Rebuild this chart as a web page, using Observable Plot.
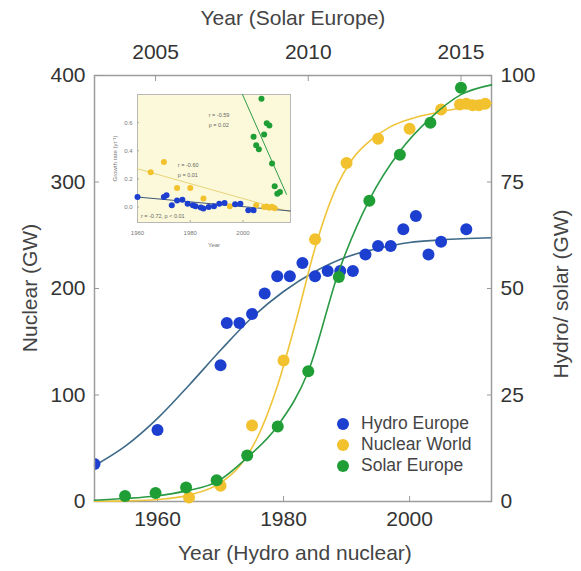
<!DOCTYPE html>
<html><head><meta charset="utf-8">
<script src="https://cdn.jsdelivr.net/npm/d3@7"></script>
<script src="https://cdn.jsdelivr.net/npm/@observablehq/plot@0.6"></script>
<style>
body{margin:0;background:#fff;font-family:"Liberation Sans",Arial,sans-serif;}
#wrap{position:relative;width:581px;height:571px;overflow:hidden;}
#wrap svg{position:absolute;left:0;top:0;overflow:visible;}
#legend{position:absolute;left:337px;top:413px;font-size:17.5px;color:#444;line-height:21px;}
#legend .it{display:flex;align-items:center;height:21px;}
#legend .sw{width:12px;height:12px;border-radius:50%;margin-right:12px;}
.title{position:absolute;font-size:21px;color:#444;white-space:nowrap;transform-origin:center center;}
</style></head><body><div id="wrap"></div>
<script>
// ---- main data ----
const hydroYears = [1950,1960,1970,1971,1973,1975,1977,1979,1981,1983,1985,1987,1989,1991,1993,1995,1997,1999,2001,2003,2005,2009];
const hydroGW    = [8.8,16.8,32.0,41.9,41.9,44.0,48.8,52.9,52.9,56.0,52.9,54.1,54.1,54.1,58.0,60.0,60.0,63.9,67.0,58.0,61.0,63.9];
const nuclearYears = [1965,1970,1975,1980,1985,1990,1995,2000,2005,2008,2009,2010,2011,2012];
const nuclearGW    = [3.8,14.8,71.3,132.5,246.2,317.8,340.7,350.1,368,372.7,373.4,372,372,373.4];
const solarYears = [2004,2005,2006,2007,2008,2009,2010,2011,2012,2013,2014,2015];
const solarGW    = [1.3,2.0,3.3,5.0,10.8,17.6,30.6,52.7,70.6,81.4,88.9,97.1];
// fitted curves
const hydroFitYears = [1950,1955,1960,1965,1970,1975,1980,1985,1990,1995,2000,2005,2013];
const hydroFitGW    = [8.4,13.1,19.5,27.3,35.5,43.2,49.3,54.0,57.4,59.4,60.8,61.4,61.9];
const nuclearFitYears = [1950,1955,1960,1965,1970,1973,1976,1979,1982,1985,1988,1991,1994,1997,2000,2005,2010,2013];
const nuclearFitGW    = [0.2,0.6,1.9,6,17.5,33,62,108,170,238,290,322,340,352,359,366,371,374];
const solarFitYears = [2003,2004,2005,2006,2007,2008,2009,2010,2011,2012,2013,2014,2015,2016];
const solarFitGW    = [0.3,0.7,1.3,2.5,4.6,10.3,17.8,30.5,54,70.8,82.2,90,95.5,97.8];
// ticks and titles
const bottomTicks = [1960,1980,2000];
const topTicks = [2005,2010,2015];
const leftTicks = [0,100,200,300,400];
const rightTicks = [0,25,50,75,100];
const titles = ["Year (Solar Europe)","Year (Hydro and nuclear)","Nuclear (GW)","Hydro/ solar (GW)"];
// ---- inset data (growth rates) ----
const gHydroYears = [1960,1970,1971,1973,1975,1977,1979,1981,1982,1984,1985,1987,1989,1991,1993,1997,1999,2002,2004];
const gHydroRate  = [0.071,0.071,0.083,0.012,0.047,0.052,0.024,0.012,0.005,-0.004,-0.011,0,0.005,0.024,0.028,0.019,0.024,-0.023,-0.023];
const gNuclearYears = [1965,1970,1975,1980,1985,1995,2005,2008,2009,2010,2011,2012];
const gNuclearRate  = [0.248,0.32,0.135,0.135,0.06,0.005,0.012,0.0,0.004,-0.005,0.002,-0.008];
const gSolarYears = [2004,2005,2006,2007,2008,2009,2010,2011,2012,2013,2014];
const gSolarRate  = [0.50,0.44,0.41,0.77,0.515,0.596,0.58,0.31,0.147,0.095,0.106];
const gHydroFitYears = [1960,2018], gHydroFitRate = [0.071,-0.028];
const gNuclearFitYears = [1960,2018], gNuclearFitRate = [0.272,-0.035];
const gSolarFitYears = [1999.8,2016.5], gSolarFitRate = [0.80,0.09];
const insetXTicks = [1960,1980,2000];
const insetYTicks = [0,0.2,0.4,0.6];
const insetNotes = [
  {year:1987, rate:0.655, text:"r = -0.59"},
  {year:1987, rate:0.58, text:"p = 0.02"},
  {year:1975.3, rate:0.30, text:"r = -0.60"},
  {year:1975.3, rate:0.225, text:"p = 0.01"},
  {year:1961.3, rate:-0.065, text:"r = -0.72, p < 0.01"}
];
const seriesNames = ["Hydro Europe","Nuclear World","Solar Europe"];

const C = {hydro:"#1d3fd0", nuclear:"#f2c12e", solar:"#1f9e36", hydroFit:"#3e6a88", nuclearFit:"#efc43a", solarFit:"#2a9a45"};
const zip = (xs, ys) => xs.map((x,i)=>({x, y: ys[i]}));

const W=581, H=571;
const FONT = "'Liberation Sans', Arial, sans-serif";
const base = {width:W, height:H, marginTop:75, marginRight:90, marginBottom:70, marginLeft:94,
  style:{background:"transparent", fontFamily:FONT, color:"#333", overflow:"visible"}};

const wrap = document.getElementById("wrap");

// hydro layer (bottom years, right values)
const hydroPlot = Plot.plot({...base,
  x:{domain:[1950,2013], axis:null}, y:{domain:[0,100], axis:null},
  marks:[
    Plot.line(zip(hydroFitYears, hydroFitGW), {x:"x", y:"y", stroke:C.hydroFit, strokeWidth:1.6, curve:"monotone-x"}),
    Plot.dot(zip(hydroYears, hydroGW), {x:"x", y:"y", r:6, fill:C.hydro, clip:true})
  ]});

// nuclear layer + main frame and bottom/left axes
const mainPlot = Plot.plot({...base,
  x:{domain:[1950,2013]}, y:{domain:[0,400]},
  marks:[
    Plot.frame({stroke:"#9c9c9c", strokeWidth:1.5}),
    Plot.axisX({anchor:"bottom", ticks:bottomTicks, tickSize:0, tickPadding:10, tickFormat:d=>String(d), fontSize:21, label:null}),
    Plot.axisX({anchor:"bottom", ticks:bottomTicks, tickSize:5, dy:-5, tickFormat:()=>"", label:null, stroke:"#999"}),
    Plot.axisY({anchor:"left", ticks:leftTicks, tickSize:0, tickPadding:9, fontSize:21, label:null}),
    Plot.axisY({anchor:"left", ticks:leftTicks, tickSize:5, dx:5, tickFormat:()=>"", label:null, stroke:"#999"}),
    Plot.line(zip(nuclearFitYears, nuclearFitGW), {x:"x", y:"y", stroke:C.nuclearFit, strokeWidth:1.6, curve:"monotone-x"}),
    Plot.dot(zip(nuclearYears, nuclearGW), {x:"x", y:"y", r:6, fill:C.nuclear})
  ]});

// solar layer + top/right axes
const solarPlot = Plot.plot({...base,
  x:{domain:[2003,2016]}, y:{domain:[0,100]},
  marks:[
    Plot.axisX({anchor:"top", ticks:topTicks, tickSize:0, tickPadding:17, tickFormat:d=>String(d), fontSize:21, label:null}),
    Plot.axisX({anchor:"top", ticks:topTicks, tickSize:5, dy:5, tickFormat:()=>"", label:null, stroke:"#999"}),
    Plot.axisY({anchor:"right", ticks:rightTicks, tickSize:0, tickPadding:9, fontSize:21, label:null}),
    Plot.axisY({anchor:"right", ticks:rightTicks, tickSize:5, dx:-5, tickFormat:()=>"", label:null, stroke:"#999"}),
    Plot.line(zip(solarFitYears, solarFitGW), {x:"x", y:"y", stroke:C.solarFit, strokeWidth:1.6, curve:"monotone-x"}),
    Plot.dot(zip(solarYears, solarGW), {x:"x", y:"y", r:6, fill:C.solar})
  ]});

// inset
const insetPlot = Plot.plot({width:195, height:180, marginLeft:37, marginRight:5, marginTop:14, marginBottom:38,
  style:{background:"transparent", fontFamily:FONT, color:"#777", overflow:"visible"},
  x:{domain:[1960,2018]}, y:{domain:[-0.11,0.8]},
  marks:[
    Plot.frame({fill:"#fcf9da", stroke:"#b8b8b8", strokeWidth:1}),
    Plot.axisX({anchor:"bottom", ticks:insetXTicks, tickSize:0, tickPadding:8, tickFormat:d=>String(d), fontSize:6,
      label:"Year", labelArrow:"none", labelAnchor:"center", labelOffset:24}),
    Plot.axisX({anchor:"bottom", ticks:insetXTicks, tickSize:2, dy:-2, tickFormat:()=>"", label:null, stroke:"#aaa"}),
    Plot.axisY({anchor:"left", ticks:insetYTicks, tickSize:0, tickPadding:5, tickFormat:d=>d.toFixed(1), fontSize:6,
      label:"Growth rate (yr⁻¹)", labelArrow:"none", labelAnchor:"center", labelOffset:25}),
    Plot.axisY({anchor:"left", ticks:insetYTicks, tickSize:2, dx:2, tickFormat:()=>"", label:null, stroke:"#aaa"}),
    Plot.line(zip(gNuclearFitYears, gNuclearFitRate), {x:"x", y:"y", stroke:"#e8d47a", strokeWidth:1}),
    Plot.line(zip(gHydroFitYears, gHydroFitRate), {x:"x", y:"y", stroke:"#3b5676", strokeWidth:1}),
    Plot.line(zip(gSolarFitYears, gSolarFitRate), {x:"x", y:"y", stroke:"#2f9b48", strokeWidth:1, clip:true}),
    Plot.dot(zip(gNuclearYears, gNuclearRate), {x:"x", y:"y", r:3, fill:C.nuclear}),
    Plot.dot(zip(gHydroYears, gHydroRate), {x:"x", y:"y", r:3, fill:C.hydro}),
    Plot.dot(zip(gSolarYears, gSolarRate), {x:"x", y:"y", r:3, fill:C.solar}),
    Plot.text(insetNotes, {x:"year", y:"rate", text:"text", textAnchor:"start", fontSize:5.5, fill:"#666"})
  ]});
insetPlot.style.left = "100px";
insetPlot.style.top = "80px";

wrap.append(hydroPlot, mainPlot, solarPlot, insetPlot);

// axis titles (HTML text)
const titlePos = [
  {cx:293, cy:18, rot:0},
  {cx:295, cy:553, rot:0},
  {cx:30, cy:288, rot:-90},
  {cx:560, cy:294, rot:-90}
];
titles.forEach((t,i)=>{
  const el = document.createElement("div");
  el.className = "title";
  el.textContent = t;
  wrap.append(el);
  const w = el.offsetWidth, h = el.offsetHeight;
  const p = titlePos[i];
  el.style.left = (p.cx - w/2) + "px";
  el.style.top = (p.cy - h/2) + "px";
  el.style.transform = `rotate(${p.rot}deg)`;
});

// legend
const legend = document.createElement("div");
legend.id = "legend";
const legendColors = [C.hydro, C.nuclear, C.solar];
seriesNames.forEach((name,i)=>{
  const it = document.createElement("div"); it.className="it";
  const sw = document.createElement("span"); sw.className="sw"; sw.style.background = legendColors[i];
  it.append(sw, document.createTextNode(name));
  legend.append(it);
});
wrap.append(legend);
</script>
</body></html>
